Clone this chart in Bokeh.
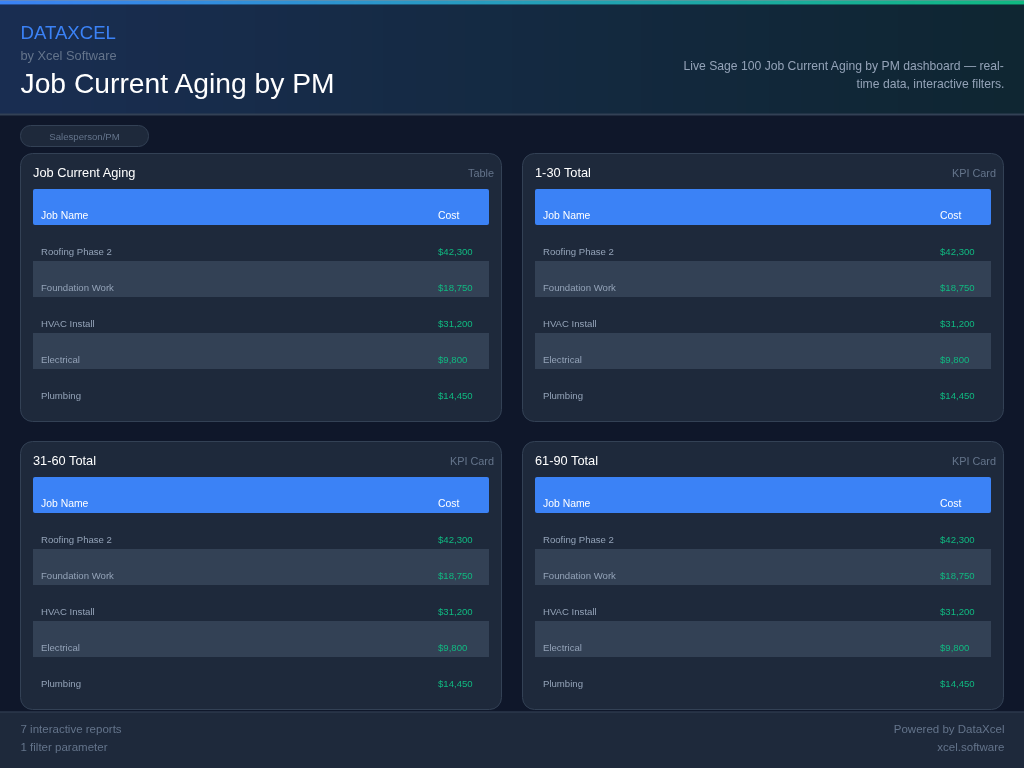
import numpy as np
from bokeh.plotting import figure
from bokeh.models import Range1d
from bokeh.core.properties import value
from bokeh.embed import file_html
from bokeh.resources import INLINE

# ---- data ----
job_names = ["Roofing Phase 2", "Foundation Work", "HVAC Install", "Electrical", "Plumbing"]
job_costs = [42300, 18750, 31200, 9800, 14450]
table_columns = ["Job Name", "Cost"]
panel_titles = ["Job Current Aging", "1-30 Total", "31-60 Total", "61-90 Total"]
panel_kinds = ["Table", "KPI Card", "KPI Card", "KPI Card"]
brand = "DATAXCEL"
byline = "by Xcel Software"
page_title = "Job Current Aging by PM"
description = ["Live Sage 100 Job Current Aging by PM dashboard \u2014 real-", "time data, interactive filters."]
filter_label = "Salesperson/PM"
footer_left = ["7 interactive reports", "1 filter parameter"]
footer_right = ["Powered by DataXcel", "xcel.software"]

# ---- layout ----
W, H = 1024, 768
BLEED = 3
FONT = "Liberation Sans"
BG, CARD, LINE = "#0f172a", "#1e293b", "#334155"
BLUE, GREEN = "#3b82f6", "#10b981"
MUTED, SOFT = "#64748b", "#94a3b8"
CARD_X = [20, 522, 20, 522]
CARD_Y = [153, 153, 441, 441]
CARD_W, CARD_H = 482, 269
ROW_H = 36

p = figure(width=W + 1, height=H, x_range=Range1d(-1, W), y_range=Range1d(H, 0),
           output_backend="svg", toolbar_location=None,
           x_axis_location=None, y_axis_location=None,
           min_border=0, outline_line_color=None, background_fill_color=BG,
           border_fill_color=BG)
p.grid.visible = False
p.styles = {"position": "fixed", "left": "-1px", "top": "0"}


def gradient(w, h, stops):
    xs = np.arange(w)[None, :] / (w - 1) * np.ones((h, 1))
    out = np.zeros((h, w), dtype=np.uint32)
    view = out.view(np.uint8).reshape((h, w, 4))
    pos = [s[0] for s in stops]
    for c in range(3):
        view[:, :, c] = np.interp(xs, pos, [s[1][c] for s in stops]).astype(np.uint8)
    view[:, :, 3] = 255
    return out


# header band and accent line
FULL = W + 2 * BLEED
p.image_rgba(image=[gradient(FULL, 110, [(0, (26, 46, 82)), (1, (15, 38, 50))])],
             x=[-BLEED], y=[4], dw=[FULL], dh=[110])
p.image_rgba(image=[gradient(FULL, 4 + BLEED, [(0, (59, 130, 246)), (1, (16, 185, 129))])],
             x=[-BLEED], y=[-BLEED], dw=[FULL], dh=[4 + BLEED])
p.quad(left=[-BLEED], right=[W + BLEED], top=[113], bottom=[115], fill_color=LINE, line_color=None)

# footer
p.quad(left=[-BLEED], right=[W + BLEED], top=[711], bottom=[H + BLEED], fill_color=CARD, line_color=None)
p.quad(left=[-BLEED], right=[W + BLEED], top=[711], bottom=[712], fill_color=LINE, line_color=None)


def put(x, y, texts, size, color, align="left"):
    p.text(x=x, y=y, text=texts, text_font=value(FONT), text_font_size=size, text_color=color,
           text_align=align, text_baseline="middle")


# header texts
put([20], [32], [brand], "18.6px", BLUE)
put([20], [54.5], [byline], "12.8px", MUTED)
put([20], [82], [page_title], "28.25px", "#ffffff")
put([1004, 1004], [65.5, 83.5], description, "12.16px", SOFT, align="right")

# filter pill
p.quad(left=[20], right=[148], top=[125], bottom=[146], fill_color=CARD,
       line_color=LINE, line_width=1, border_radius=10)
put([84], [135.5], [filter_label], "9.6px", MUTED, align="center")

# cards
for i, (cx, cy) in enumerate(zip(CARD_X, CARD_Y)):
    p.quad(left=[cx], right=[cx + CARD_W - 1], top=[cy], bottom=[cy + CARD_H - 1],
           fill_color=CARD, line_color=LINE, line_width=1, border_radius=12)
    put([cx + 12.5], [cy + 19], [panel_titles[i]], "12.8px", "#ffffff")
    put([cx + 473.5], [cy + 19.5], [panel_kinds[i]], "10.88px", MUTED, align="right")

    tx0, tx1 = cx + 13, cx + 469
    head_top = cy + 36
    p.quad(left=[tx0 - .5], right=[tx1 - .5], top=[head_top - .5], bottom=[head_top + ROW_H - .5],
           fill_color=BLUE, line_color=None, border_radius=2)
    put([tx0 + 7.5, tx0 + 404.5], [head_top + 26] * 2, table_columns, "10.4px", "#ffffff")

    n = len(job_names)
    tops = [head_top + ROW_H * (r + 1) for r in range(n)]
    odd = [r for r in range(n) if r % 2 == 1]
    p.quad(left=[tx0 - .5] * len(odd), right=[tx1 - .5] * len(odd), top=[tops[r] - .5 for r in odd],
           bottom=[tops[r] + ROW_H - .5 for r in odd], fill_color=LINE, line_color=None)
    put([tx0 + 7.5] * n, [t + 25.5 for t in tops], job_names, "9.6px", SOFT)
    put([tx0 + 404.5] * n, [t + 25.5 for t in tops], [f"${v:,}" for v in job_costs], "9.6px", GREEN)

# footer texts
put([20, 20], [728, 746], footer_left, "11.52px", MUTED)
put([1004, 1004], [728, 746], footer_right, "11.52px", MUTED, align="right")

open("out.html", "w").write(file_html(p, INLINE))
